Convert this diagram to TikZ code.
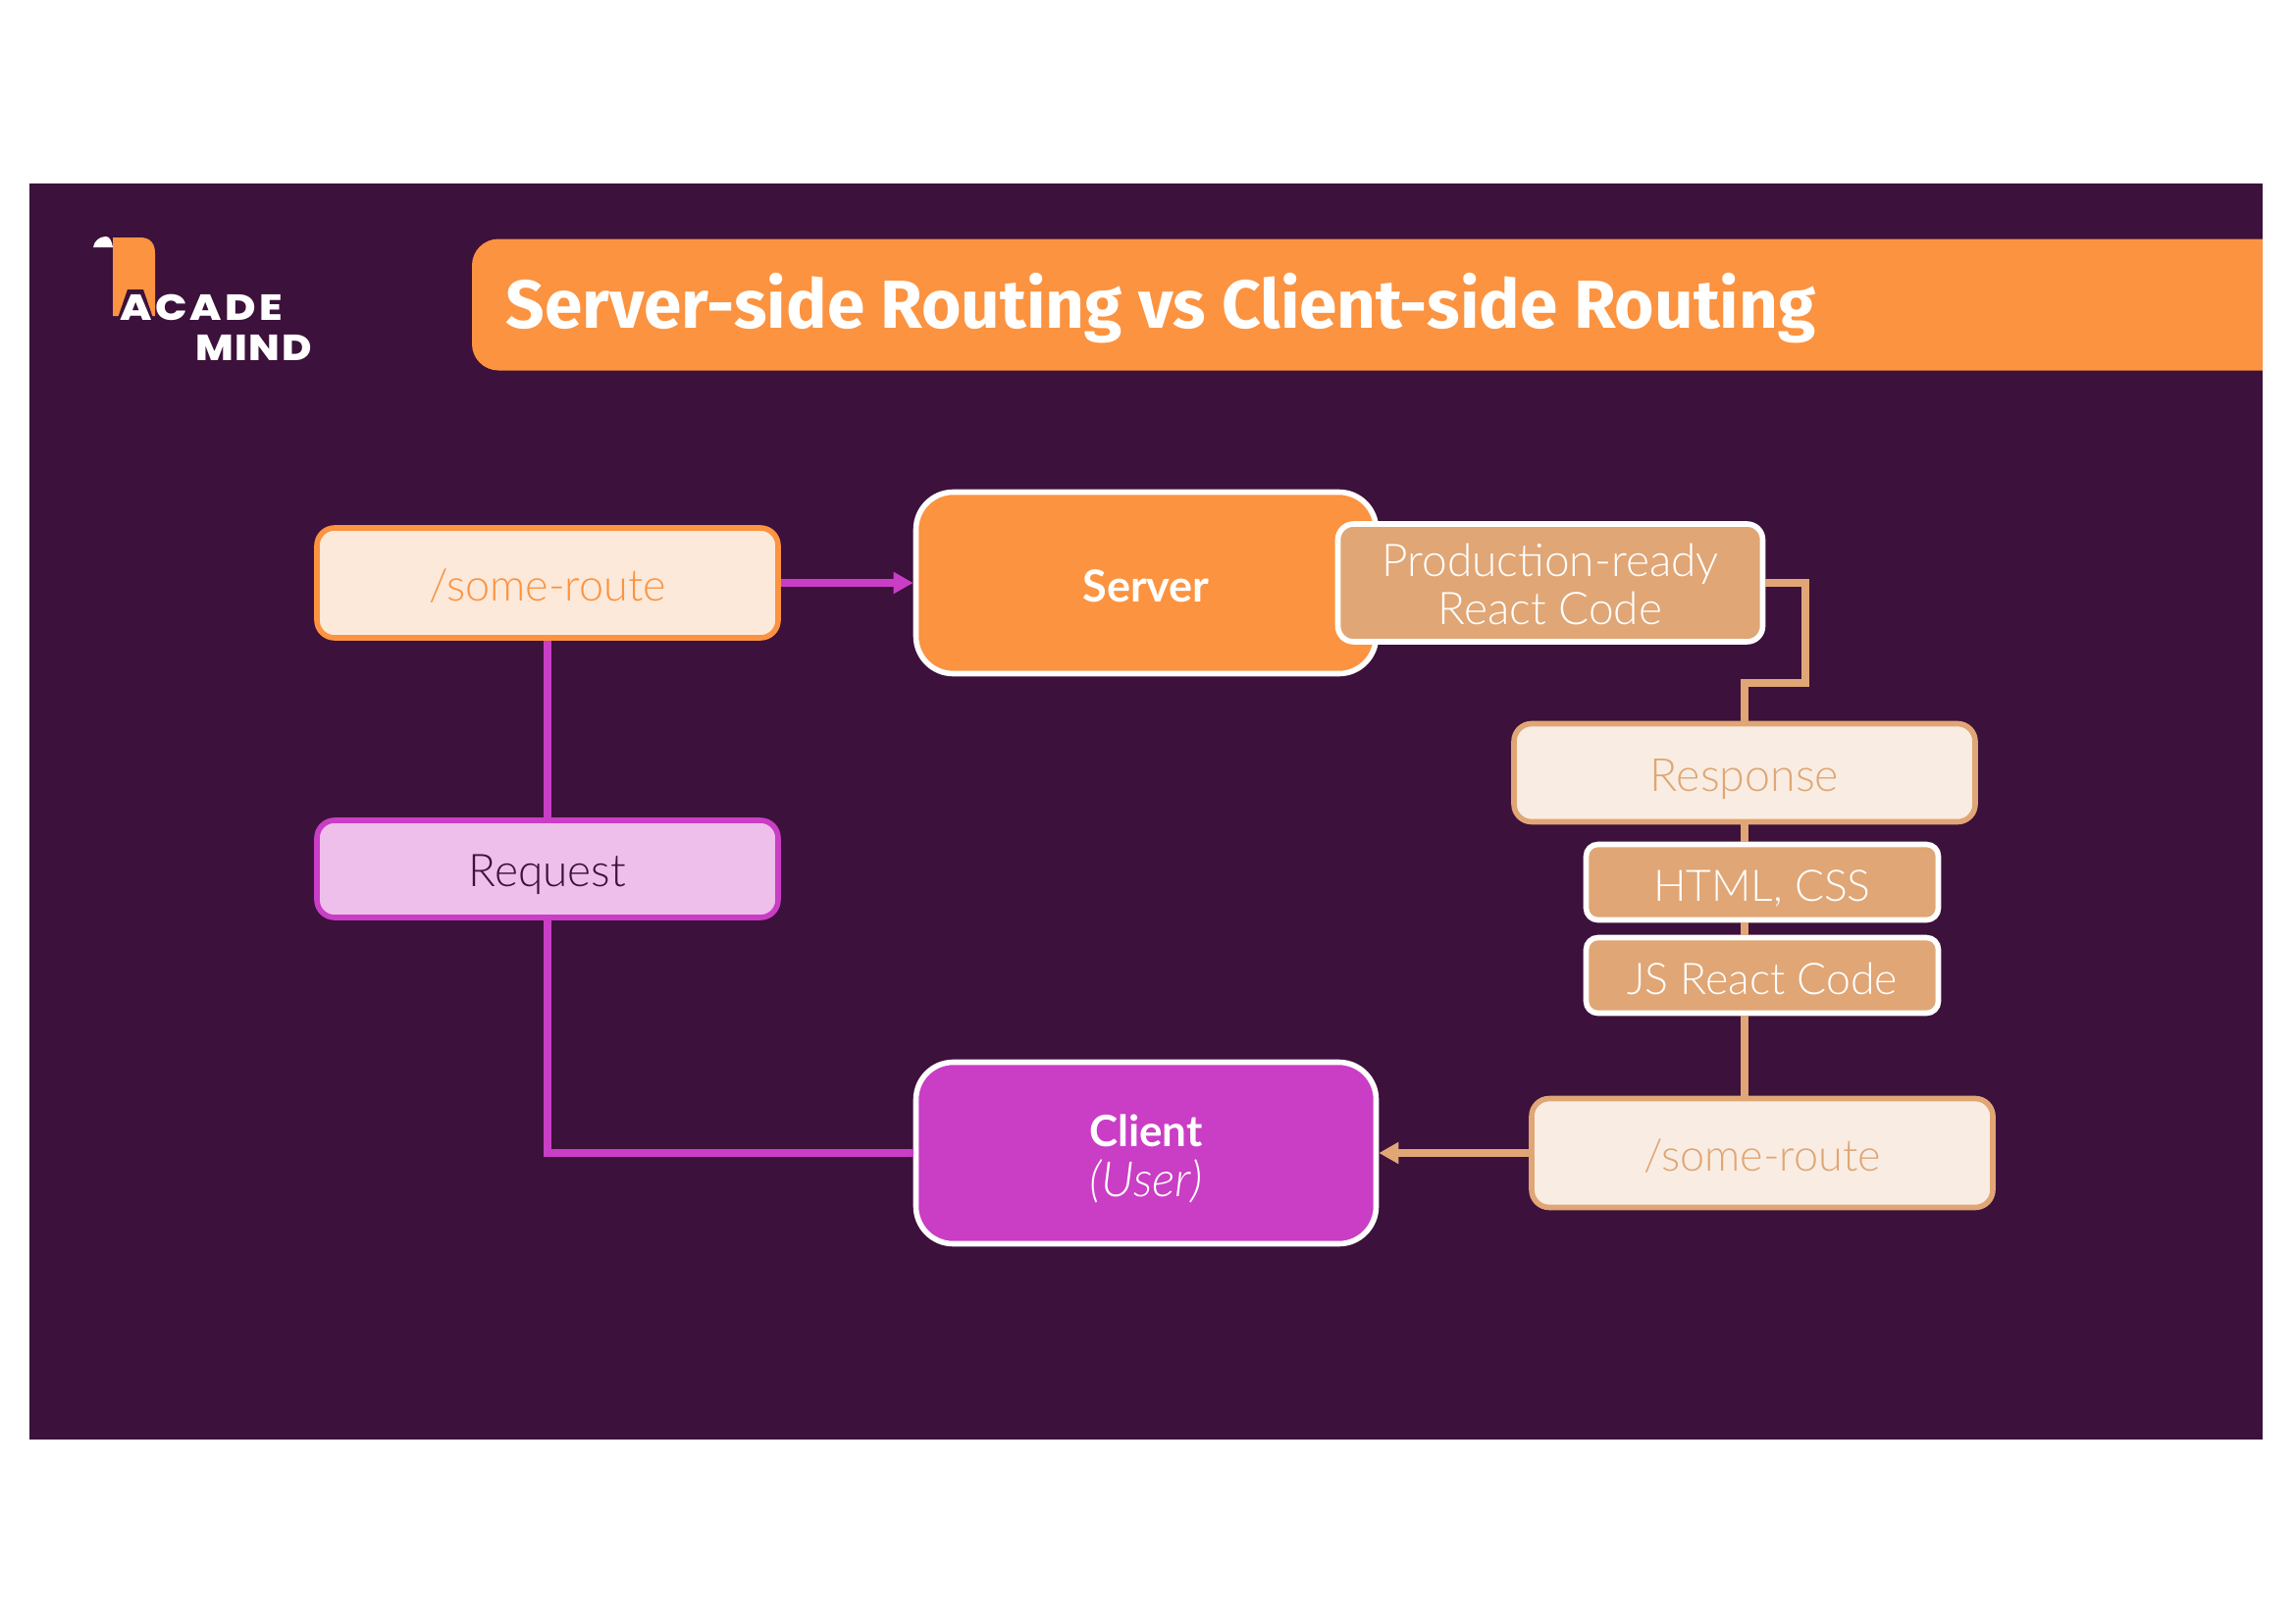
\documentclass[tikz,border=0pt]{standalone}
\usepackage{fontspec}
\usetikzlibrary{arrows.meta,calc}
\setmainfont{Lato}
\newfontfamily\lightfont{Lato Light}
\newfontfamily\titlefont{Fira Sans}
\newfontfamily\logofontA[FakeStretch=1.16,LetterSpace=9]{Poppins ExtraBold}
\newfontfamily\logofontB[FakeStretch=1.12,LetterSpace=4]{Poppins ExtraBold}
\definecolor{bgc}{HTML}{3C113B}
\definecolor{orangec}{HTML}{FC9340}
\definecolor{orangel}{HTML}{FDE9DA}
\definecolor{purplec}{HTML}{CA3DC5}
\definecolor{purplel}{HTML}{EDBFEA}
\definecolor{tanc}{HTML}{E0A675}
\definecolor{tanl}{HTML}{F9EDE3}
\newcommand\lowered[2]{\raisebox{-#1}[\height][\depth]{#2}}
\tikzset{
  boxbase/.style={draw,line width=2.8pt,inner sep=0pt,align=center,font=\fontsize{23}{26}\selectfont\lightfont},
  bigbox/.style={boxbase,rounded corners=19pt,minimum width=234.5pt,minimum height=92.5pt,draw=white,text=white},
  routebox/.style={boxbase,rounded corners=9pt,minimum width=235pt},
  tanbox/.style={boxbase,rounded corners=8pt,draw=white,fill=tanc,text=white},
  purpleline/.style={draw=purplec,line width=3.7pt},
  tanline/.style={draw=tanc,line width=3.7pt},
  headtip/.style={-{Triangle[length=10pt,width=10.5pt]}}
}
\begin{document}
\begin{tikzpicture}[x=0.5pt,y=-0.5pt]
\useasboundingbox (0,0) rectangle (2339,1654);
\fill[bgc] (30,186.5) rectangle (2306,1467);
% title band
\fill[orangec] (2306,243.5) -- (508,243.5) arc[start angle=90,end angle=180,radius=13.5pt] -- (481,350.5) arc[start angle=180,end angle=270,radius=13.5pt] -- (2306,377.5) -- cycle;
\node[anchor=west,inner sep=0pt,text=white,font=\fontsize{34.65}{40}\selectfont\titlefont\bfseries] (title) at (515,314) {Server-side Routing vs Client-side Routing};
% logo
\fill[orangec] (115,242) -- (143,242) .. controls (153,242) and (158,248) .. (158,258) -- (158,322) -- (115,322) -- cycle;
\fill[white] (95,252) .. controls (96,245) and (102,241) .. (108,241) .. controls (112,241) and (114,246) .. (115,252) -- cycle;
\fill[bgc] (118,330) -- (130,295) -- (146,295) -- (158,330) -- cycle;
\node[anchor=west,inner sep=0pt,text=white,font=\fontsize{18.5}{20}\selectfont\logofontA] (academy) at (122,313) {ACADE};
\node[anchor=west,inner sep=0pt,text=white,font=\fontsize{18.5}{20}\selectfont\logofontB] (mind) at (199,354) {MIND};
% main boxes
\node[bigbox,fill=orangec] (server) at (1168,594) {\lowered{1.5pt}{\fontsize{22.5}{26}\selectfont\normalfont\bfseries Server}};
\node[bigbox,fill=purplec] (client) at (1168,1175) {\lowered{3pt}{\fontsize{22}{26}\selectfont\normalfont\bfseries Client}\\[-0.5pt]\lowered{3pt}{\fontsize{24.8}{26}\selectfont\itshape (User)}};
\node[routebox,fill=orangel,draw=orangec,text=orangec,minimum height=56pt] (route) at (558,594) {\lowered{1.5pt}{\fontsize{22.5}{26}\selectfont /some-route}};
\node[routebox,fill=purplel,draw=purplec,text=bgc,minimum height=49.5pt] (request) at (558,885.5) {\lowered{3pt}{Request}};
\node[tanbox,minimum width=216.5pt,minimum height=60pt] (prod) at (1580,594) {\lowered{1.5pt}{Production-ready}\\\lowered{0pt}{React Code}};
\node[routebox,fill=tanl,draw=tanc,text=tanc,minimum height=50pt] (response) at (1778,787.5) {\lowered{3.5pt}{\fontsize{23.3}{26}\selectfont Response}};
\node[tanbox,rounded corners=6pt,minimum width=179.5pt,minimum height=38.5pt] (html) at (1796,899) {\lowered{3pt}{\fontsize{22.2}{26}\selectfont HTML, CSS}};
\node[tanbox,rounded corners=6pt,minimum width=179.5pt,minimum height=38.5pt] (js) at (1796,994) {\lowered{1.5pt}{\fontsize{22.3}{26}\selectfont JS React Code}};
\node[routebox,fill=tanl,draw=tanc,text=tanc,minimum height=55.5pt] (route2) at (1796,1175) {\lowered{1.5pt}{\fontsize{22.5}{26}\selectfont /some-route}};
% connectors
\coordinate (bendA) at (1840,696);
\draw[purpleline,headtip] (route.east) -- (server.west);
\draw[purpleline] (route.south) -- (request.north);
\draw[purpleline] (request.south) |- (client.west);
\draw[tanline] (prod.east) -| (bendA) -| (response.north);
\draw[tanline] (response.south) -- (response.south |- html.north);
\draw[tanline] (response.south |- html.south) -- (response.south |- js.north);
\draw[tanline] (response.south |- js.south) -- (response.south |- route2.north);
\draw[tanline,headtip] (route2.west) -- (client.east);
\end{tikzpicture}
\end{document}
